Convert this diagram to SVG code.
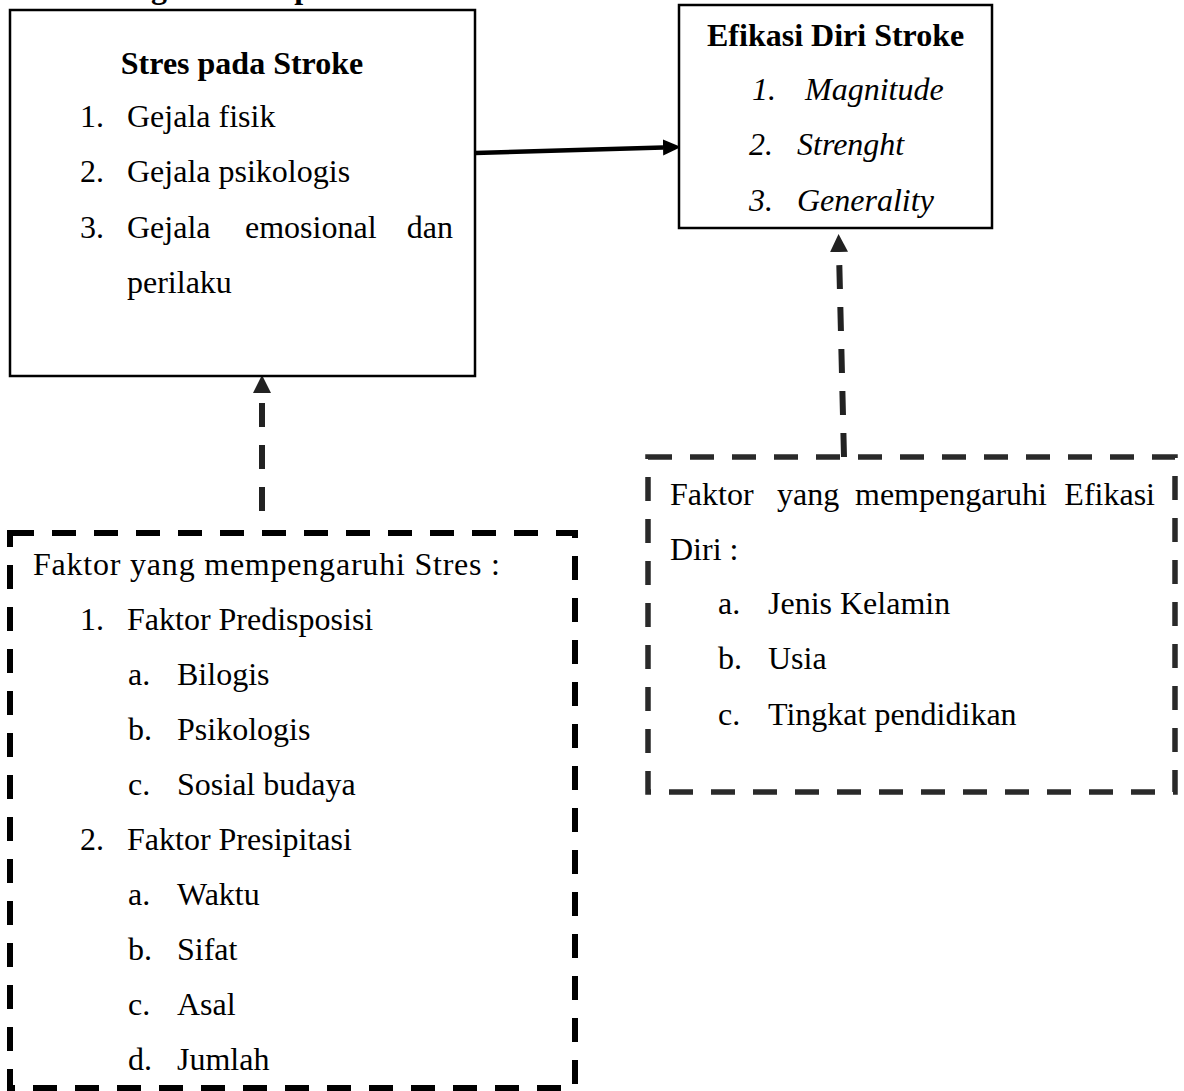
<svg xmlns="http://www.w3.org/2000/svg" width="1184" height="1091" viewBox="0 0 1184 1091">
<defs>
<style>
text{font-family:"Liberation Serif","Times New Roman",serif;font-size:32px;fill:#000}
.b{font-weight:bold}
.i{font-style:italic}
.solid{fill:#fff;stroke:#000;stroke-width:2.5}
.dash{fill:none;stroke:#000;stroke-width:6;stroke-dasharray:24 18}
.dashg{fill:none;stroke:#2a2a2a;stroke-width:5.5;stroke-dasharray:24 18}
.conn{fill:none;stroke:#222;stroke-width:6;stroke-dasharray:24 18}
</style>
<marker id="headS" markerUnits="userSpaceOnUse" markerWidth="18" markerHeight="18" refX="0" refY="8" orient="auto" viewBox="0 0 18 16">
<path d="M0,0 L18,8 L0,16 z" fill="#000"/>
</marker>
<marker id="headD" markerUnits="userSpaceOnUse" markerWidth="18" markerHeight="18" refX="0" refY="9" orient="auto" viewBox="0 0 18 18">
<path d="M0,0 L18,9 L0,18 z" fill="#222"/>
</marker>
</defs>
<rect width="1184" height="1091" fill="#fff"/>
<text class="b" x="64" y="-2" font-size="28.6">Kerangka Konsep</text>

<g id="connectors">
<line x1="475" y1="153" x2="663" y2="147.5" stroke="#000" stroke-width="4.5" marker-end="url(#headS)"/>
<line class="conn" x1="262" y1="511" x2="262" y2="393" marker-end="url(#headD)"/>
<line class="conn" x1="844" y1="457" x2="839" y2="252" marker-end="url(#headD)"/>
</g>

<g id="stres">
<rect class="solid" x="10" y="10" width="465" height="366"/>
<text class="b" x="242" y="74" text-anchor="middle">Stres pada Stroke</text>
<text x="80" y="127">1.</text><text x="127" y="127">Gejala fisik</text>
<text x="80" y="182">2.</text><text x="127" y="182">Gejala psikologis</text>
<text x="80" y="238">3.</text><text x="127" y="238">Gejala</text><text x="245" y="238">emosional</text><text x="453" y="238" text-anchor="end">dan</text>
<text x="127" y="293">perilaku</text>
</g>

<g id="efikasi">
<rect class="solid" x="679" y="5" width="313" height="223"/>
<text class="b" x="707" y="46">Efikasi Diri Stroke</text>
<text class="i" x="752" y="100">1.</text><text class="i" x="805" y="100">Magnitude</text>
<text class="i" x="749" y="155">2.</text><text class="i" x="797" y="155">Strenght</text>
<text class="i" x="749" y="211">3.</text><text class="i" x="797" y="211">Generality</text>
</g>

<g id="faktor-stres">
<rect class="dash" x="10" y="533" width="565" height="555"/>
<text x="33" y="575" textLength="467" lengthAdjust="spacing">Faktor yang mempengaruhi Stres :</text>
<text x="80" y="630">1.</text><text x="127" y="630">Faktor Predisposisi</text>
<text x="128" y="685">a.</text><text x="177" y="685">Bilogis</text>
<text x="128" y="740">b.</text><text x="177" y="740">Psikologis</text>
<text x="128" y="795">c.</text><text x="177" y="795">Sosial budaya</text>
<text x="80" y="850">2.</text><text x="127" y="850">Faktor Presipitasi</text>
<text x="128" y="905">a.</text><text x="177" y="905">Waktu</text>
<text x="128" y="960">b.</text><text x="177" y="960">Sifat</text>
<text x="128" y="1015">c.</text><text x="177" y="1015">Asal</text>
<text x="128" y="1070">d.</text><text x="177" y="1070">Jumlah</text>
</g>

<g id="faktor-efikasi">
<rect class="dashg" x="648" y="457" width="527" height="335"/>
<text x="670" y="505">Faktor</text><text x="777" y="505">yang</text><text x="855" y="505">mempengaruhi</text><text x="1155" y="505" text-anchor="end">Efikasi</text>
<text x="670" y="560">Diri :</text>
<text x="718" y="614">a.</text><text x="768" y="614">Jenis Kelamin</text>
<text x="718" y="669">b.</text><text x="768" y="669">Usia</text>
<text x="718" y="725">c.</text><text x="768" y="725">Tingkat pendidikan</text>
</g>
</svg>
